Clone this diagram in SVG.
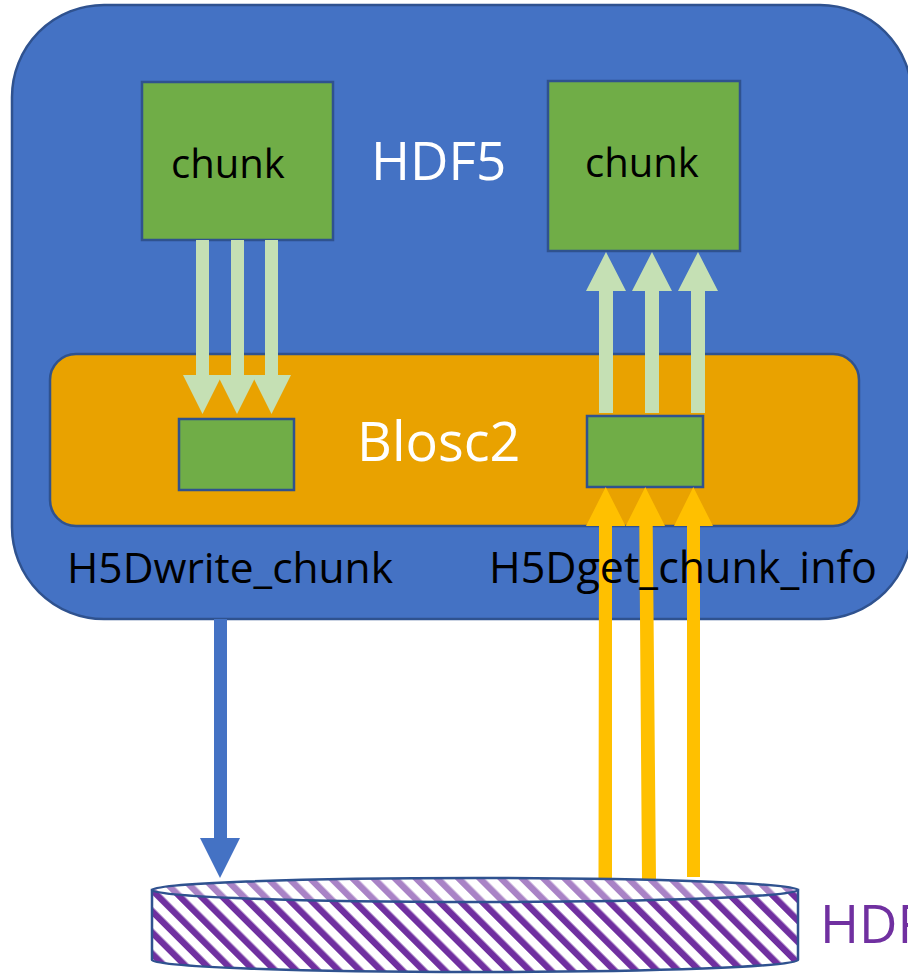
<svg xmlns="http://www.w3.org/2000/svg" width="908" height="974" viewBox="0 0 908 974">
<style>
text{font-family:"Open Sans","Noto Sans","Liberation Sans",sans-serif}
.box{stroke:#2F528F;stroke-width:2.5}
.green{fill:#70AD47}
.lg{fill:#C5E0B4}
.yl{fill:#FFC000}
.lbl{fill:#000;font-size:43px}
</style>
<defs>
<pattern id="hatch" patternUnits="userSpaceOnUse" width="15" height="15" patternTransform="rotate(-45)">
<rect width="15" height="15" fill="#fff"/>
<rect width="6.5" height="15" fill="#7030A0"/>
</pattern>
<pattern id="hatchLight" patternUnits="userSpaceOnUse" width="15" height="15" patternTransform="rotate(-45)">
<rect width="15" height="15" fill="#fff"/>
<rect width="6.5" height="15" fill="#A983C6"/>
</pattern>
</defs>

<g id="hdf5">
<rect x="12" y="5" width="900" height="614" rx="92" ry="92" fill="#4472C4" class="box"/>
<text x="371" y="180" font-size="53" fill="#fff">HDF5</text>
</g>

<g id="blosc2">
<rect x="50" y="354" width="809" height="172" rx="26" ry="26" fill="#E9A200" class="box"/>
<text x="357" y="461" font-size="54" fill="#fff">Blosc2</text>
</g>

<g id="chunk-left">
<rect x="142" y="82" width="191" height="158" class="box green"/>
<text x="228" y="178" font-size="40" text-anchor="middle" fill="#000">chunk</text>
</g>

<g id="chunk-right">
<rect x="548" y="81" width="192" height="170" class="box green"/>
<text x="642" y="177" font-size="40" text-anchor="middle" fill="#000">chunk</text>
</g>

<g id="block-left">
<rect x="179" y="419" width="115" height="71" class="box green"/>
</g>

<g id="block-right">
<rect x="587" y="416" width="116" height="71" class="box green"/>
</g>

<g id="connectors">
<polygon class="lg" points="196,240 209,240 209,375 222,375 202.5,414 183,375 196,375"/>
<polygon class="lg" points="231,240 244,240 244,375 256.5,375 237,414 217.5,375 231,375"/>
<polygon class="lg" points="265,240 278,240 278,375 291,375 271.5,414 252,375 265,375"/>
<polygon class="lg" points="599,413 613,413 613,291 626,291 606,252 586,291 599,291"/>
<polygon class="lg" points="645,413 659,413 659,291 672,291 652,252 632,291 645,291"/>
<polygon class="lg" points="691,413 705,413 705,291 718,291 698,252 678,291 691,291"/>
<polygon class="yl" points="598.5,879 612,879 612,526 625.5,526 605.7,487 586,526 599,526"/>
<polygon class="yl" points="642,879 656,879 652.7,526 665,526 645.3,487 625.7,526 639.3,526"/>
<polygon class="yl" points="687,877 700,877 700,526 713,526 693.3,487 674,526 687,526"/>
<polygon fill="#4472C4" points="214,619 227,619 227,838 240,838 220,878 200,838 214,838"/>
</g>

<g id="api-labels">
<text class="lbl" x="67" y="583" font-size="42.5" style="font-size:42.5px">H5Dwrite_chunk</text>
<text class="lbl" x="489" y="583">H5Dget_chunk_info</text>
</g>

<g id="hdf-file">
<path d="M152,890 L152,960 A323,12 0 0 0 798,960 L798,890 Z" fill="url(#hatch)" stroke="#2F528F" stroke-width="2.5"/>
<ellipse cx="475" cy="890" rx="323" ry="12" fill="url(#hatchLight)" stroke="#2F528F" stroke-width="2.5"/>
<text x="820" y="943" font-size="53" fill="#7030A0">HDF5</text>
</g>
</svg>
